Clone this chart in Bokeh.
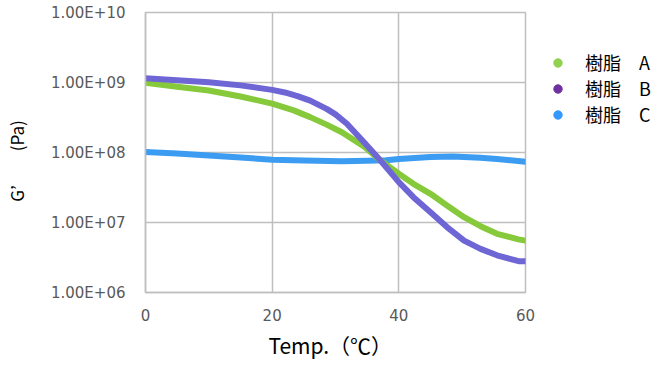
from bokeh.plotting import figure
from bokeh.models import (Range1d, FixedTicker, CustomJSTickFormatter, Legend, LegendItem,
                          ColumnDataSource)
from bokeh.embed import file_html
from bokeh.resources import INLINE

# ---- data ----
temp_a = [0, 5, 10, 15, 20, 23.4, 26, 28.6, 31, 34.5, 37.1, 40, 42.3, 45, 47.6, 50.3, 52.9, 55.5, 58.9, 60]
g_a = [9.9e8, 8.7e8, 7.7e8, 6.3e8, 5.0e8, 4.0e8, 3.2e8, 2.5e8, 1.95e8, 1.22e8, 7.7e7, 4.97e7, 3.57e7,
       2.57e7, 1.75e7, 1.19e7, 8.85e6, 6.9e6, 5.75e6, 5.5e6]

temp_b = [0, 5, 10, 15, 20, 22, 24, 26, 28.6, 30, 31.8, 34.5, 37.1, 40, 42.3, 45, 47.6, 50.3, 52.9,
          55.5, 58.9, 60]
g_b = [1.15e9, 1.08e9, 1.01e9, 9.1e8, 7.85e8, 7.2e8, 6.4e8, 5.5e8, 4.2e8, 3.5e8, 2.57e8, 1.4e8, 7.7e7,
       3.77e7, 2.3e7, 1.4e7, 8.6e6, 5.5e6, 4.2e6, 3.4e6, 2.8e6, 2.8e6]

temp_c = [0, 5, 10, 15, 20, 25, 31, 35, 38, 40, 45, 48.5, 52.9, 55.5, 60]
g_c = [1.02e8, 9.7e7, 9.05e7, 8.5e7, 7.9e7, 7.7e7, 7.5e7, 7.6e7, 7.75e7, 8.1e7, 8.6e7, 8.8e7, 8.4e7,
       8.1e7, 7.4e7]

series_names = ["樹脂　A", "樹脂　B", "樹脂　C"]
line_colors = ["#86c93a", "#6f66d6", "#3b9cf2"]
dot_colors = ["#92d050", "#7030a0", "#3399ff"]

x_ticks = [0, 20, 40, 60]
y_ticks = [1e6, 1e7, 1e8, 1e9, 1e10]

# ---- figure ----
p = figure(width=640, height=357, output_backend="svg", toolbar_location=None,
           y_axis_type="log", x_range=Range1d(0, 60), y_range=Range1d(1e6, 1e10),
           frame_width=380, frame_height=280,
           min_border_left=137, min_border_right=123, min_border_top=12, min_border_bottom=65)
p.background_fill_color = "white"
p.border_fill_color = "white"
p.outline_line_color = "#bfbfbf"
p.outline_line_width = 1.5

for ax in (p.xaxis, p.yaxis):
    ax.axis_line_color = "#bfbfbf"
    ax.axis_line_width = 1.5
    ax.major_tick_line_color = None
    ax.minor_tick_line_color = None
    ax.major_label_text_color = "#595959"
    ax.major_label_text_font = "DejaVu Sans"
    ax.major_label_text_font_size = "15px"
    ax.axis_label_text_font = "Noto Sans CJK JP"
    ax.axis_label_text_font_style = "normal"
    ax.axis_label_text_color = "#000000"
p.xaxis.axis_label_text_font_size = "21px"
p.yaxis.axis_label_text_font_size = "17px"

p.xaxis.ticker = FixedTicker(ticks=x_ticks, minor_ticks=[])
p.yaxis.ticker = FixedTicker(ticks=y_ticks, minor_ticks=[])
p.yaxis.formatter = CustomJSTickFormatter(code="""
const e = Math.round(Math.log10(tick));
const m = tick / Math.pow(10, e);
return m.toFixed(2) + "E+" + (e < 10 ? "0" : "") + e;
""")
p.xaxis.major_label_standoff = 10
p.yaxis.major_label_standoff = 14
p.xaxis.axis_label = "Temp.（℃）　"
p.yaxis.axis_label = "G’\u2002　\u2002(Pa)　"
p.xaxis.axis_label_standoff = 6
p.yaxis.axis_label_standoff = 19

p.xgrid.grid_line_color = "#bfbfbf"
p.ygrid.grid_line_color = "#bfbfbf"
p.xgrid.grid_line_width = 1.5
p.ygrid.grid_line_width = 1.5
p.xgrid.ticker = FixedTicker(ticks=x_ticks)
p.ygrid.ticker = FixedTicker(ticks=y_ticks)

data = [(temp_a, g_a), (temp_b, g_b), (temp_c, g_c)]
order = [2, 0, 1]  # draw C first, then A, then B on top
for i in order:
    t, g = data[i]
    p.line(t, g, line_color=line_colors[i], line_width=6, line_join="round", line_cap="round")

# legend-only renderers: same series data on an auxiliary x range that lies outside the frame
p.extra_x_ranges = {"legend_only": Range1d(start=1000, end=1001)}
items = []
for i in range(3):
    t, g = data[i]
    src = ColumnDataSource(dict(x=t, y=g))
    r = p.scatter("x", "y", source=src, x_range_name="legend_only", marker="circle",
                  size=10, fill_color=dot_colors[i], line_color=dot_colors[i])
    items.append(LegendItem(label=series_names[i], renderers=[r]))

legend = Legend(items=items, location=(20, 165), border_line_color=None,
                background_fill_alpha=0, padding=0, margin=0, spacing=-4,
                label_height=21, glyph_height=21, glyph_width=25, label_standoff=15,
                label_text_font="Noto Sans CJK JP", label_text_font_size="18px",
                label_text_color="#000000")
p.add_layout(legend, "right")

open("out.html", "w").write(file_html(p, INLINE))
